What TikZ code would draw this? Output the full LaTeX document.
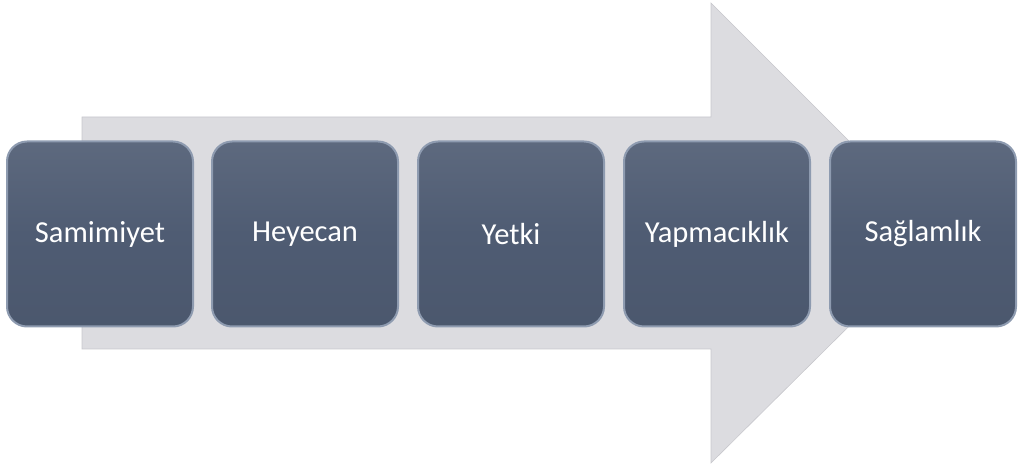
\documentclass[tikz,border=0pt]{standalone}
\usepackage{fontspec}
\setmainfont{Carlito}
\usepackage{tikz}

\definecolor{slate}{HTML}{4F5C73}
\definecolor{slateedge}{HTML}{8E9BB0}
\definecolor{arrowgrey}{HTML}{DCDCE0}
\definecolor{arrowedge}{HTML}{C8C8CD}

\tikzset{
  stage/.style={draw=slateedge, line width=2pt, rounded corners=20pt,
    top color=slate!92!white, bottom color=slate!95!black, middle color=slate,
    minimum width=186pt, minimum height=185pt, inner sep=0pt,
    text=white, font=\fontsize{30.5}{36}\selectfont}
}

\begin{document}
\begin{tikzpicture}[x=1pt,y=1pt]
\useasboundingbox (0,0) rectangle (1024,468);

% big arrow behind the stages
\fill[arrowgrey, draw=arrowedge, line width=0.6pt]
  (82,351) -- (711,351) -- (711,465) -- (942,234) -- (711,5) -- (711,119) -- (82,119) -- cycle;

\node[stage] (samimiyet) at (100,234) {Samimiyet};
\node[stage] (heyecan) at (305,234) {Heyecan};
\node[stage] (yetki) at (511,234) {Yetki};
\node[stage] (yapmaciklik) at (717,234) {Yapmacıklık};
\node[stage] (saglamlik) at (923,234) {Sağlamlık};

\end{tikzpicture}
\end{document}
